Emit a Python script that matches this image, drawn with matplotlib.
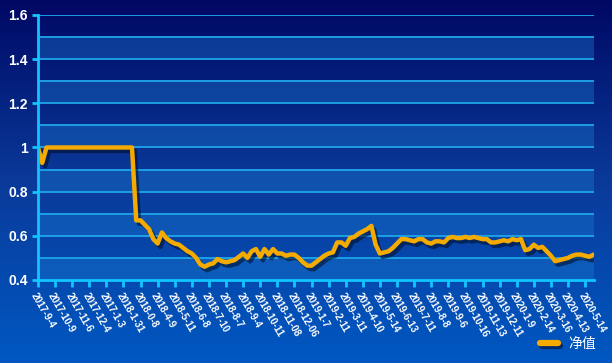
import numpy as np
import matplotlib
matplotlib.use("Agg")
import matplotlib.pyplot as plt
import matplotlib.patheffects as pe
from matplotlib.colors import LinearSegmentedColormap

# net value series (4 points per tick label)
values = [
    1.0, 0.93, 1.0, 1.0, 1.0, 1.0, 1.0, 1.0, 1.0, 1.0,
    1.0, 1.0, 1.0, 1.0, 1.0, 1.0, 1.0, 1.0, 1.0, 1.0,
    1.0, 1.0, 1.0, 0.67, 0.67, 0.65, 0.63, 0.585, 0.565, 0.615,
    0.59, 0.575, 0.565, 0.56, 0.545, 0.53, 0.52, 0.50, 0.47, 0.46,
    0.47, 0.475, 0.495, 0.485, 0.48, 0.485, 0.49, 0.505, 0.52, 0.50,
    0.53, 0.54, 0.505, 0.54, 0.515, 0.54, 0.52, 0.52, 0.51, 0.515,
    0.515, 0.50, 0.48, 0.465, 0.465, 0.48, 0.495, 0.51, 0.52, 0.525,
    0.57, 0.57, 0.555, 0.59, 0.595, 0.61, 0.62, 0.63, 0.645, 0.56,
    0.52, 0.525, 0.53, 0.545, 0.565, 0.585, 0.585, 0.58, 0.575, 0.585,
    0.585, 0.57, 0.565, 0.575, 0.575, 0.57, 0.59, 0.595, 0.59, 0.59,
    0.595, 0.59, 0.595, 0.59, 0.585, 0.585, 0.57, 0.57, 0.575, 0.58,
    0.575, 0.585, 0.58, 0.585, 0.535, 0.54, 0.56, 0.545, 0.55, 0.53,
    0.51, 0.485, 0.49, 0.495, 0.50, 0.51, 0.515, 0.515, 0.51, 0.505,
    0.515,
]

tick_labels = [
    "2017-9-4", "2017-10-9", "2017-11-6", "2017-12-4", "2017-1-3", "2018-1-31",
    "2018-0-8", "2018-4-9", "2018-5-11", "2018-6-8", "2018-7-10", "2018-8-7",
    "2018-9-4", "2018-10-11", "2018-11-08", "2018-12-06", "2019-1-7", "2019-2-11",
    "2019-3-11", "2019-4-10", "2019-5-14", "2019-6-13", "2019-7-11", "2019-8-8",
    "2019-9-6", "2019-10-16", "2019-11-13", "2019-12-11", "2020-1-9", "2020-2-14",
    "2020-3-16", "2020-4-13", "2020-5-14",
]
tick_step = 4

fig = plt.figure(figsize=(6.12, 3.63), dpi=100)

# background gradient
bg = fig.add_axes([0, 0, 1, 1], zorder=-10)
cmap = LinearSegmentedColormap.from_list("bg", ["#000864", "#0a3a9a", "#0058c2"])
bg.imshow(np.linspace(0, 1, 256).reshape(-1, 1), aspect="auto", cmap=cmap,
          extent=[0, 1, 0, 1])
bg.axis("off")

ax = fig.add_axes([0.062, 0.2287, 0.908, 0.73])
ax.patch.set_alpha(0)
x = np.arange(len(values))
ax.set_xlim(0, len(values) - 1)
ax.set_ylim(0.4, 1.6)

# alternating bands and grid
for k in range(12):
    lo = 0.4 + k * 0.1
    if k % 2 == 0:
        ax.axhspan(lo, lo + 0.1, color="#1a78d0", alpha=0.4, lw=0, zorder=0)
    ax.axhline(lo + 0.1, color="#1ea6ea", lw=1.3, zorder=1)

ax.plot(x, values, color="#f5aa00", lw=3.2, zorder=3, solid_joinstyle="round",
        solid_capstyle="round",
        path_effects=[pe.SimpleLineShadow(offset=(2, -2.5), shadow_color="#001030",
                                          alpha=0.6), pe.Normal()],
        label="净值")

for s in ["top", "right"]:
    ax.spines[s].set_visible(False)
for s in ["left", "bottom"]:
    ax.spines[s].set_color("#12c4ff")
    ax.spines[s].set_linewidth(2)
    ax.spines[s].set_zorder(4)

ax.set_yticks([0.4, 0.6, 0.8, 1.0, 1.2, 1.4, 1.6])
ax.set_yticklabels(["0.4", "0.6", "0.8", "1", "1.2", "1.4", "1.6"])
ax.tick_params(axis="y", colors="#12c4ff", length=4, width=2, labelcolor="white",
               labelsize=10)
for t in ax.get_yticklabels():
    t.set_fontweight("bold")
    t.set_family("Liberation Sans")

ax.set_xticks(np.arange(len(tick_labels)) * tick_step)
ax.set_xticklabels(tick_labels, rotation=-60, ha="left", va="top",
                   rotation_mode="anchor", fontsize=7, color="white",
                   fontweight="bold", family="Liberation Sans")
ax.tick_params(axis="x", colors="#12c4ff", length=5, width=2, labelcolor="white",
               pad=3)

leg = fig.legend(loc="lower right", bbox_to_anchor=(0.995, 0.0), frameon=False,
                 handlelength=1.3,
                 prop={"family": ["Noto Sans CJK SC", "DejaVu Sans"], "size": 10})
for t in leg.get_texts():
    t.set_color("white")
for h in leg.get_lines():
    h.set_linewidth(4.5)
    h.set_solid_capstyle("round")

fig.savefig("out.png", dpi=100)
